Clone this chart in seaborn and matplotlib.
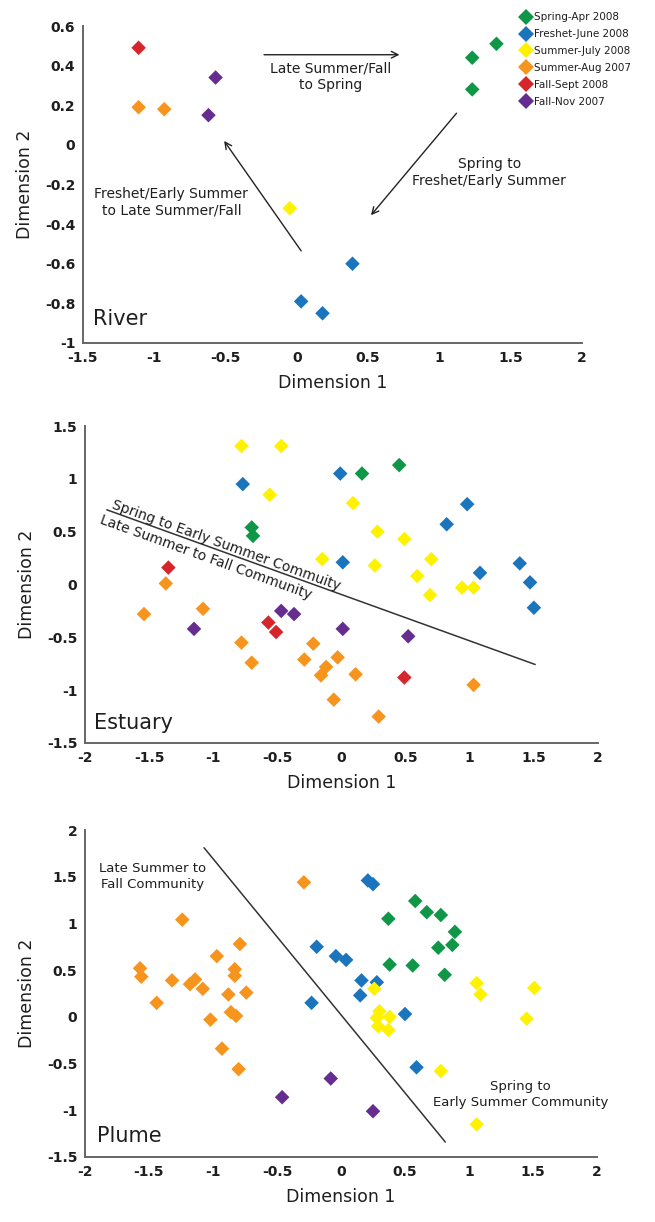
import numpy as np
import pandas as pd
import matplotlib
matplotlib.use("Agg")
import matplotlib.pyplot as plt
import seaborn as sns
from matplotlib.lines import Line2D
from matplotlib.ticker import FuncFormatter

# ---------------- data ----------------
seasons = ["Spring-Apr 2008", "Freshet-June 2008", "Summer-July 2008",
           "Summer-Aug 2007", "Fall-Sept 2008", "Fall-Nov 2007"]
season_colors = ["#0f9647", "#1b75bc", "#fff200", "#f7941d", "#d7262b", "#662d91"]

# River
river_spring_x = [1.23, 1.40, 1.23]
river_spring_y = [0.44, 0.51, 0.28]
river_freshet_x = [0.39, 0.03, 0.18]
river_freshet_y = [-0.60, -0.79, -0.85]
river_july_x = [-0.05]
river_july_y = [-0.32]
river_aug_x = [-1.11, -0.93]
river_aug_y = [0.19, 0.18]
river_sept_x = [-1.11]
river_sept_y = [0.49]
river_nov_x = [-0.57, -0.62]
river_nov_y = [0.34, 0.15]

# Estuary
est_spring_x = [0.16, 0.45, -0.70, -0.69]
est_spring_y = [1.05, 1.13, 0.54, 0.46]
est_freshet_x = [-0.77, -0.01, 0.01, 0.82, 0.98, 1.08, 1.39, 1.47, 1.50]
est_freshet_y = [0.95, 1.05, 0.21, 0.57, 0.76, 0.11, 0.20, 0.02, -0.22]
est_july_x = [-0.78, -0.47, -0.56, 0.09, 0.28, 0.49, -0.15, 0.26, 0.70, 0.59, 0.69, 0.94, 1.03]
est_july_y = [1.31, 1.31, 0.85, 0.77, 0.50, 0.43, 0.24, 0.18, 0.24, 0.08, -0.10, -0.03, -0.03]
est_aug_x = [-1.37, -1.54, -1.08, -0.78, -0.70, -0.22, -0.29, -0.03, -0.12, -0.16, 0.11, -0.06, 0.29, 1.03]
est_aug_y = [0.01, -0.28, -0.23, -0.55, -0.74, -0.56, -0.71, -0.69, -0.78, -0.86, -0.85, -1.09, -1.25, -0.95]
est_sept_x = [-1.35, -0.57, -0.51, 0.49]
est_sept_y = [0.16, -0.36, -0.45, -0.88]
est_nov_x = [-1.15, -0.47, -0.37, 0.01, 0.52]
est_nov_y = [-0.42, -0.25, -0.28, -0.42, -0.49]

# Plume
plume_spring_x = [0.58, 0.67, 0.78, 0.37, 0.89, 0.87, 0.76, 0.38, 0.56, 0.81]
plume_spring_y = [1.24, 1.12, 1.09, 1.05, 0.91, 0.77, 0.74, 0.56, 0.55, 0.45]
plume_freshet_x = [0.21, 0.25, -0.19, -0.04, 0.04, 0.16, 0.28, 0.15, -0.23, 0.50, 0.59]
plume_freshet_y = [1.46, 1.42, 0.75, 0.65, 0.61, 0.39, 0.37, 0.23, 0.15, 0.03, -0.54]
plume_july_x = [0.26, 0.30, 0.28, 0.38, 0.29, 0.37, 1.06, 1.09, 1.51, 1.45, 0.78, 1.06]
plume_july_y = [0.30, 0.06, -0.01, 0.00, -0.10, -0.14, 0.36, 0.24, 0.31, -0.02, -0.58, -1.15]
plume_aug_x = [-1.57, -1.56, -1.44, -1.32, -1.24, -1.18, -1.14, -1.08, -1.02, -0.97,
               -0.93, -0.88, -0.86, -0.83, -0.83, -0.82, -0.80, -0.79, -0.74, -0.29]
plume_aug_y = [0.52, 0.43, 0.15, 0.39, 1.04, 0.35, 0.40, 0.30, -0.03, 0.65,
               -0.34, 0.24, 0.05, 0.51, 0.44, 0.01, -0.56, 0.78, 0.26, 1.44]
plume_sept_x = []
plume_sept_y = []
plume_nov_x = [-0.46, -0.08, 0.25]
plume_nov_y = [-0.86, -0.66, -1.01]

# tick values
river_xticks = [-1.5, -1, -0.5, 0, 0.5, 1, 1.5, 2]
river_yticks = [-1, -0.8, -0.6, -0.4, -0.2, 0, 0.2, 0.4, 0.6]
est_xticks = [-2, -1.5, -1, -0.5, 0, 0.5, 1, 1.5, 2]
est_yticks = [-1.5, -1, -0.5, 0, 0.5, 1, 1.5]
plume_xticks = [-2, -1.5, -1, -0.5, 0, 0.5, 1, 1.5, 2]
plume_yticks = [-1.5, -1, -0.5, 0, 0.5, 1, 1.5, 2]

# annotation geometry (data units)
river_arrows = [((-0.23, 0.455), (0.72, 0.455)),
                ((1.12, 0.16), (0.52, -0.355)),
                ((0.03, -0.535), (-0.51, 0.02))]
est_line_x = [-1.83, 1.51]
est_line_y = [0.707, -0.757]
plume_line_x = [-1.07, 0.815]
plume_line_y = [1.81, -1.34]


def make_df(groups):
    rows = []
    for s, (xs, ys) in zip(seasons, groups):
        for x, y in zip(xs, ys):
            rows.append({"x": x, "y": y, "season": s})
    return pd.DataFrame(rows)


river_df = make_df([(river_spring_x, river_spring_y), (river_freshet_x, river_freshet_y),
                    (river_july_x, river_july_y), (river_aug_x, river_aug_y),
                    (river_sept_x, river_sept_y), (river_nov_x, river_nov_y)])
est_df = make_df([(est_spring_x, est_spring_y), (est_freshet_x, est_freshet_y),
                  (est_july_x, est_july_y), (est_aug_x, est_aug_y),
                  (est_sept_x, est_sept_y), (est_nov_x, est_nov_y)])
plume_df = make_df([(plume_spring_x, plume_spring_y), (plume_freshet_x, plume_freshet_y),
                    (plume_july_x, plume_july_y), (plume_aug_x, plume_aug_y),
                    (plume_sept_x, plume_sept_y), (plume_nov_x, plume_nov_y)])

# ---------------- style ----------------
sns.set_theme(style="white")
plt.rcParams["font.family"] = ["DejaVu Sans"]
plt.rcParams["axes.unicode_minus"] = False
TXT = "#1e1e1e"
SPINE = "#666666"
palette = dict(zip(seasons, season_colors))

W, H = 655, 1222
fig = plt.figure(figsize=(W / 100, H / 100), dpi=100)
fig.patch.set_facecolor("white")


def px_axes(l, r, t, b):
    return fig.add_axes([l / W, 1 - b / H, (r - l) / W, (b - t) / H])


ax_r = px_axes(83, 582, 26, 343)
ax_e = px_axes(85, 598, 426, 743)
ax_p = px_axes(85, 597, 830, 1157)

fmt = FuncFormatter(lambda v, p: "{:g}".format(round(v, 2)))


def style_ax(ax, df, xlim, ylim, xticks, yticks):
    sns.scatterplot(data=df, x="x", y="y", hue="season", hue_order=seasons,
                    palette=palette, marker="D", s=55, linewidth=0, ax=ax,
                    legend=False, zorder=3)
    ax.set_xlim(*xlim)
    ax.set_ylim(*ylim)
    ax.set_xticks(xticks)
    ax.set_yticks(yticks)
    ax.xaxis.set_major_formatter(fmt)
    ax.yaxis.set_major_formatter(fmt)
    for side in ["top", "right"]:
        ax.spines[side].set_visible(False)
    for side in ["left", "bottom"]:
        ax.spines[side].set_color(SPINE)
        ax.spines[side].set_linewidth(1.4)
    ax.tick_params(axis="both", direction="out", length=2.5, width=1,
                   color=SPINE, labelsize=10, labelcolor=TXT, pad=3)
    for lab in ax.get_xticklabels() + ax.get_yticklabels():
        lab.set_fontweight("bold")
    ax.set_xlabel("Dimension 1", fontsize=12.5, color=TXT, labelpad=7)
    ax.set_ylabel("Dimension 2", fontsize=12.5, color=TXT, labelpad=8)
    ax.set_facecolor("white")
    ax.grid(False)


style_ax(ax_r, river_df, (-1.5, 2), (-1, 0.6), river_xticks, river_yticks)
style_ax(ax_e, est_df, (-2, 2), (-1.5, 1.5), est_xticks, est_yticks)
style_ax(ax_p, plume_df, (-2, 2), (-1.5, 2), plume_xticks, plume_yticks)

# ---- River annotations ----
for (x0, y0), (x1, y1) in river_arrows:
    ax_r.annotate("", xy=(x1, y1), xytext=(x0, y0),
                  arrowprops=dict(arrowstyle="->", color="#222222", lw=1.0,
                                  shrinkA=0, shrinkB=0, mutation_scale=12))
ax_r.text(0.24, 0.345, "Late Summer/Fall\nto Spring", ha="center", va="center",
          fontsize=10, color=TXT, linespacing=1.25)
ax_r.text(1.35, -0.14, "Spring to\nFreshet/Early Summer", ha="center", va="center",
          fontsize=10, color=TXT, linespacing=1.25)
ax_r.text(-0.88, -0.29, "Freshet/Early Summer\nto Late Summer/Fall", ha="center",
          va="center", fontsize=10, color=TXT, linespacing=1.25)
ax_r.text(-1.43, -0.88, "River", ha="left", va="center", fontsize=15, color=TXT)

# legend
handles = [Line2D([], [], marker="D", ls="", color=c, markersize=8.5,
                  markeredgewidth=0) for c in season_colors]
fig.legend(handles, seasons, loc="upper left",
           bbox_to_anchor=(513 / W, 1 - 5 / H), frameon=False, fontsize=7.5,
           handlelength=1.0, handletextpad=0.35, labelspacing=0.66,
           borderpad=0.2, labelcolor=TXT)

# ---- Estuary annotations ----
ax_e.plot(est_line_x, est_line_y, color="#333333", lw=1.1, zorder=2)
fig.canvas.draw()
p0 = ax_e.transData.transform((est_line_x[0], est_line_y[0]))
p1 = ax_e.transData.transform((est_line_x[1], est_line_y[1]))
ang = np.degrees(np.arctan2(p1[1] - p0[1], p1[0] - p0[0]))
slope = (est_line_y[1] - est_line_y[0]) / (est_line_x[1] - est_line_x[0])


def yline(x):
    return est_line_y[0] + slope * (x - est_line_x[0])


ax_e.text(-1.80, yline(-1.80) + 0.03, "Spring to Early Summer Commuity",
          rotation=ang, rotation_mode="anchor", ha="left", va="baseline",
          fontsize=10, color=TXT)
ax_e.text(-1.86, yline(-1.86) - 0.04, "Late Summer to Fall Community",
          rotation=ang, rotation_mode="anchor", ha="left", va="top",
          fontsize=10, color=TXT)
ax_e.text(-1.93, -1.31, "Estuary", ha="left", va="center", fontsize=15, color=TXT)

# ---- Plume annotations ----
ax_p.plot(plume_line_x, plume_line_y, color="#333333", lw=1.1, zorder=2)
ax_p.text(-1.47, 1.50, "Late Summer to\nFall Community", ha="center", va="center",
          fontsize=9.5, color=TXT, linespacing=1.25)
ax_p.text(1.40, -0.83, "Spring to\nEarly Summer Community", ha="center", va="center",
          fontsize=9.5, color=TXT, linespacing=1.25)
ax_p.text(-1.91, -1.27, "Plume", ha="left", va="center", fontsize=15, color=TXT)

fig.savefig("out.png", dpi=100, facecolor="white")
